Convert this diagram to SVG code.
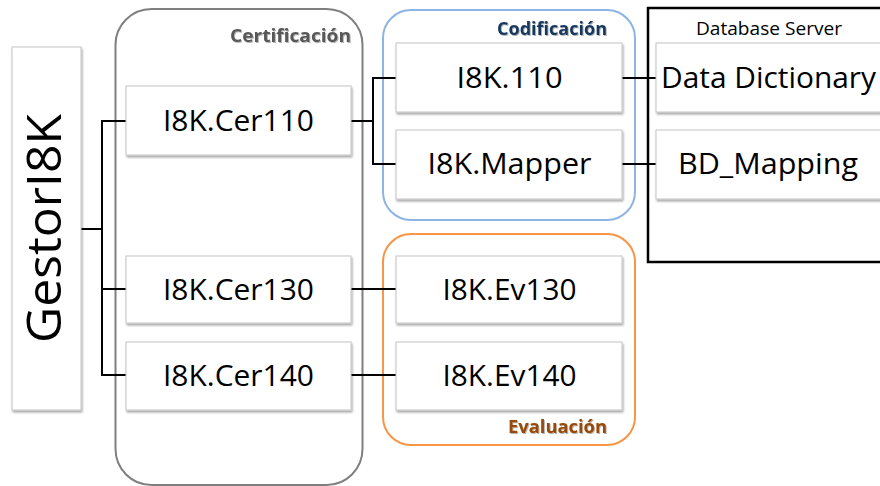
<svg xmlns="http://www.w3.org/2000/svg" width="880" height="486" viewBox="0 0 880 486">
<defs>
<filter id="sh" x="-10%" y="-10%" width="130%" height="140%">
<feGaussianBlur in="SourceAlpha" stdDeviation="1.2"/>
<feOffset dx="1" dy="2" result="b"/>
<feComponentTransfer><feFuncA type="linear" slope="0.35"/></feComponentTransfer>
<feMerge><feMergeNode/><feMergeNode in="SourceGraphic"/></feMerge>
</filter>
<filter id="tsh" x="-5%" y="-20%" width="110%" height="150%">
<feGaussianBlur in="SourceAlpha" stdDeviation="0.7"/>
<feOffset dx="1" dy="1"/>
<feComponentTransfer><feFuncA type="linear" slope="0.3"/></feComponentTransfer>
<feMerge><feMergeNode/><feMergeNode in="SourceGraphic"/></feMerge>
</filter>
</defs>
<style>
text{font-family:"Open Sans","Liberation Sans",sans-serif;fill:#000}
.box{fill:#fff;stroke:#c4c4c4;stroke-width:1;filter:url(#sh)}
.lbl{font-size:29px}
.grp{font-size:17px;font-weight:bold;filter:url(#tsh)}
.conn{fill:none;stroke:#000;stroke-width:2}
</style>
<rect x="0" y="0" width="880" height="486" fill="#fff"/>

<g id="cont-certificacion">
<rect x="115.5" y="9" width="247" height="476" rx="36" fill="none" stroke="#7f7f7f" stroke-width="2"/>
<text class="grp" x="351" y="42" text-anchor="end" textLength="121" lengthAdjust="spacingAndGlyphs" style="fill:#595959">Certificación</text>
</g>
<g id="cont-codificacion">
<rect x="383" y="10" width="252" height="210" rx="28" fill="none" stroke="#8eb4e3" stroke-width="2"/>
<text class="grp" x="607" y="35" text-anchor="end" textLength="110" lengthAdjust="spacingAndGlyphs" style="fill:#17375e">Codificación</text>
</g>
<g id="cont-evaluacion">
<rect x="383" y="234" width="252" height="211" rx="28" fill="none" stroke="#f79646" stroke-width="2"/>
<text class="grp" x="607" y="433" text-anchor="end" textLength="99" lengthAdjust="spacingAndGlyphs" style="fill:#984807">Evaluación</text>
</g>
<g id="cont-dbserver">
<rect x="648" y="8" width="240" height="254" fill="none" stroke="#000" stroke-width="2.5"/>
<text x="769" y="35" text-anchor="middle" font-size="18" textLength="146" lengthAdjust="spacingAndGlyphs">Database Server</text>
</g>

<g id="connectors">
<path class="conn" d="M80 229H102M102 121V375M101 121H126M101 289H126M101 375H126"/>
<path class="conn" d="M351 121H373M373 77V164M372 78H396M372 164H396"/>
<path class="conn" d="M622 78H656M622 164H656"/>
<path class="conn" d="M351 289H396M351 375H396"/>
</g>

<g id="gestor">
<rect class="box" x="12" y="47" width="69" height="363"/>
<text transform="translate(61,228.5) rotate(-90)" text-anchor="middle" font-size="48" textLength="229" lengthAdjust="spacingAndGlyphs">GestorI8K</text>
</g>

<g id="cer110">
<rect class="box" x="126" y="86" width="225" height="69"/>
<text class="lbl" x="238.5" y="131" text-anchor="middle" textLength="151" lengthAdjust="spacingAndGlyphs">I8K.Cer110</text>
</g>
<g id="cer130">
<rect class="box" x="126" y="256" width="225" height="67"/>
<text class="lbl" x="238.5" y="300" text-anchor="middle" textLength="151" lengthAdjust="spacingAndGlyphs">I8K.Cer130</text>
</g>
<g id="cer140">
<rect class="box" x="126" y="342" width="225" height="68"/>
<text class="lbl" x="238.5" y="386" text-anchor="middle" textLength="151" lengthAdjust="spacingAndGlyphs">I8K.Cer140</text>
</g>

<g id="i8k110">
<rect class="box" x="396" y="43" width="226" height="69"/>
<text class="lbl" x="509.5" y="88" text-anchor="middle" textLength="106" lengthAdjust="spacingAndGlyphs">I8K.110</text>
</g>
<g id="mapper">
<rect class="box" x="396" y="130" width="226" height="69"/>
<text class="lbl" x="509.5" y="174" text-anchor="middle" textLength="164" lengthAdjust="spacingAndGlyphs">I8K.Mapper</text>
</g>
<g id="ev130">
<rect class="box" x="396" y="256" width="226" height="67"/>
<text class="lbl" x="509.5" y="300" text-anchor="middle" textLength="134" lengthAdjust="spacingAndGlyphs">I8K.Ev130</text>
</g>
<g id="ev140">
<rect class="box" x="396" y="342" width="226" height="68"/>
<text class="lbl" x="509.5" y="386" text-anchor="middle" textLength="134" lengthAdjust="spacingAndGlyphs">I8K.Ev140</text>
</g>

<g id="datadict">
<rect class="box" x="656" y="43" width="240" height="69"/>
<text class="lbl" x="661" y="88" textLength="215" lengthAdjust="spacingAndGlyphs">Data Dictionary</text>
</g>
<g id="bdmapping">
<rect class="box" x="656" y="130" width="240" height="69"/>
<text class="lbl" x="678" y="174" textLength="180" lengthAdjust="spacingAndGlyphs">BD_Mapping</text>
</g>
</svg>
